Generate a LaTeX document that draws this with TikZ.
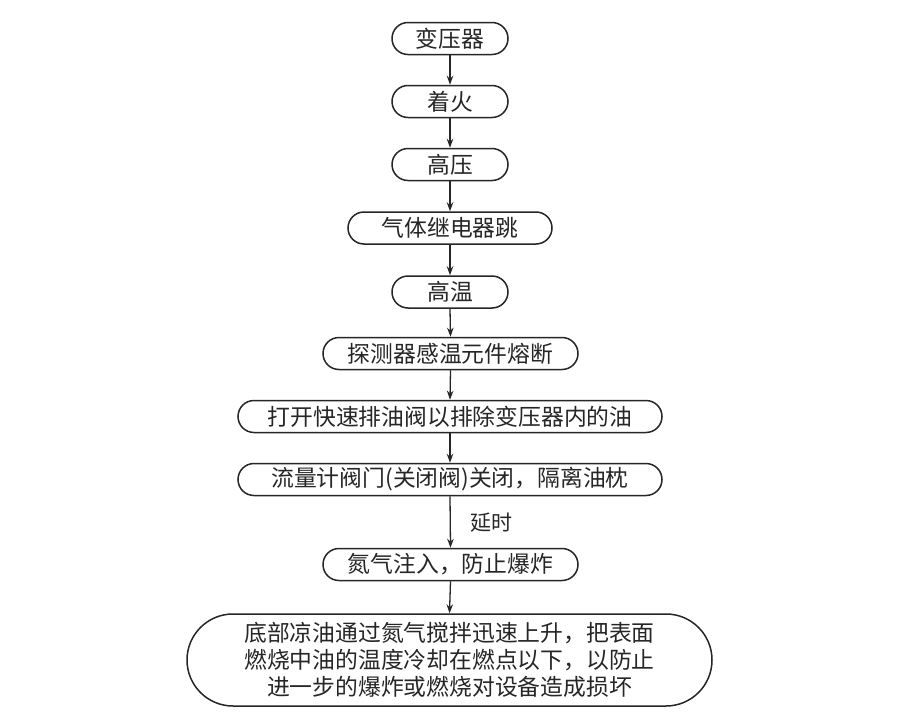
\documentclass[tikz,border=0pt]{standalone}
\usepackage{fontspec}
\setmainfont{Noto Sans CJK SC}
\usetikzlibrary{shapes.misc,arrows.meta}
\tikzset{
  flowbox/.style={rounded rectangle, draw=black!85, line width=1.5pt, inner sep=0pt,
    minimum height=32pt, font=\fontsize{22.8}{27}\selectfont, text=black!85},
  flowarrow/.style={draw=black!85, line width=1.3pt, -{Stealth[length=9pt,width=6.5pt]}},
}
\begin{document}
\begin{tikzpicture}[x=1pt,y=-1pt]
\useasboundingbox[fill=white] (0,0) rectangle (900,728);
\node[flowbox, minimum width=116pt] (b1) at (450,38.5) {变压器};
\node[flowbox, minimum width=116pt] (b2) at (450,101.5) {着火};
\node[flowbox, minimum width=116pt] (b3) at (450,164.5) {高压};
\node[flowbox, minimum width=204pt] (b4) at (450,228) {气体继电器跳};
\node[flowbox, minimum width=116pt] (b5) at (450,292) {高温};
\node[flowbox, minimum width=255pt] (b6) at (450.5,353.5) {探测器感温元件熔断};
\node[flowbox, minimum width=424pt] (b7) at (450,416.5) {打开快速排油阀以排除变压器内的油};
\node[flowbox, minimum width=424pt] (b8) at (450,479.5) {流量计阀门(关闭阀)关闭，隔离油枕};
\node[flowbox, minimum width=255pt] (b9) at (450.5,564.5) {氮气注入，防止爆炸};
\node[flowbox, minimum width=525pt, minimum height=92pt, align=center] (b10) at (449.5,660)
  {底部凉油通过氮气搅拌迅速上升，把表面\\燃烧中油的温度冷却在燃点以下，以防止\\进一步的爆炸或燃烧对设备造成损坏};
\node[font=\fontsize{21}{24}\selectfont, text=black!85] (delay) at (491,523) {延时};
\draw[flowarrow] (b1.south) -- (b2.north);
\draw[flowarrow] (b2.south) -- (b3.north);
\draw[flowarrow] (b3.south) -- (b4.north);
\draw[flowarrow] (b4.south) -- (b5.north);
\draw[flowarrow] (b5.south) -- (b6.north);
\draw[flowarrow] (b6.south) -- (b7.north);
\draw[flowarrow] (b7.south) -- (b8.north);
\draw[flowarrow] (b8.south) -- (b9.north);
\draw[flowarrow] (b9.south) -- (b10.north);
\end{tikzpicture}
\end{document}
